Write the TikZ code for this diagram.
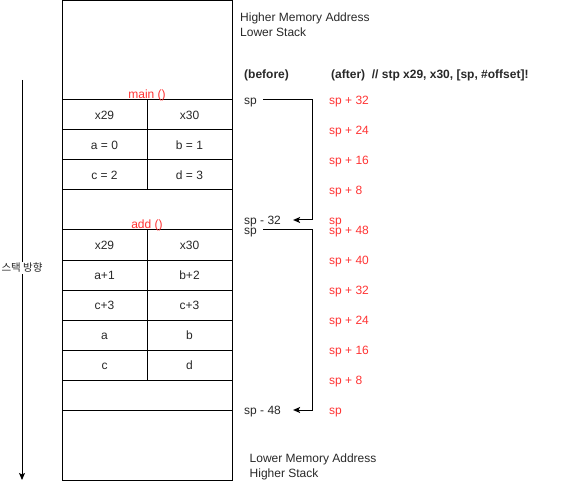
\documentclass[tikz,border=0pt]{standalone}
\usepackage{fontspec}
\setmainfont{Liberation Sans}
\newfontfamily\krfont{Noto Sans CJK KR}
\usetikzlibrary{arrows.meta}
\definecolor{labelred}{RGB}{255,51,51}
\definecolor{textgray}{RGB}{40,40,40}

\begin{document}
\begin{tikzpicture}[x=1pt,y=-1pt,
    font=\fontsize{12}{15}\selectfont, text=textgray,
    cell/.style={rectangle, draw, line width=1pt, minimum width=85pt,
      minimum height=30pt, inner sep=0pt, text height=8.6pt, text depth=0pt},
    block/.style={rectangle, draw, line width=1pt, minimum width=170pt, inner sep=0pt},
    txt/.style={anchor=west, inner sep=0pt, text height=8.6pt, text depth=0pt},
    redtxt/.style={txt, text=labelred},
    spline/.style={line width=1pt, -{Stealth[length=7pt,width=6pt,inset=1.5pt]}}]
  \useasboundingbox (0,0) rectangle (573,489);

  % stack frame
  \node[block, minimum height=99pt] (top) at (147,50.5) {};
  \node[cell] (m29) at (104.5,115) {x29};
  \node[cell] (m30) at (189.5,115) {x30};
  \node[cell] (ma) at (104.5,145) {a = 0};
  \node[cell] (mb) at (189.5,145) {b = 1};
  \node[cell] (mc) at (104.5,175) {c = 2};
  \node[cell] (md) at (189.5,175) {d = 3};
  \node[block, minimum height=40pt] (gapA) at (147,210) {};
  \node[cell] (a29) at (104.5,245) {x29};
  \node[cell] (a30) at (189.5,245) {x30};
  \node[cell] (aa) at (104.5,275) {a+1};
  \node[cell] (ab) at (189.5,275) {b+2};
  \node[cell] (ac) at (104.5,305) {c+3};
  \node[cell] (ac2) at (189.5,305) {c+3};
  \node[cell] (aa2) at (104.5,335) {a};
  \node[cell] (ab2) at (189.5,335) {b};
  \node[cell] (ac3) at (104.5,365) {c};
  \node[cell] (ad) at (189.5,365) {d};
  \node[block, minimum height=30pt] (gapB) at (147,395) {};
  \node[block, minimum height=70pt] (bottom) at (147,445) {};

  \node[text=labelred, inner sep=0pt, text height=8.6pt, text depth=0pt] (mainlbl)
       at (147,94.5) {main ()};
  \node[text=labelred, inner sep=0pt, text height=8.6pt, text depth=0pt] (addlbl)
       at (147,224.5) {add ()};

  % stack direction
  \coordinate (dirtop) at (22,80);
  \coordinate (dirbot) at (22,480);
  \draw[spline] (dirtop) -- (dirbot);
  \node[fill=white, inner sep=1pt, font=\krfont\fontsize{10.5}{12}\selectfont]
       (dir) at (22,268) {스택 방향};

  % address notes
  \node[anchor=west, inner sep=0pt, align=left] (himem) at (240,25.1)
       {Higher Memory Address\\Lower Stack};
  \node[anchor=west, inner sep=0pt, align=left] (lowmem) at (249.5,466.7)
       {Lower Memory Address\\Higher Stack};

  \node[txt, font=\fontsize{12}{15}\selectfont\bfseries] (before) at (244,74.5) {(before)};
  \node[txt, font=\fontsize{12}{15}\selectfont\bfseries] (after) at (331,74.5)
       {(after)\ \ // stp x29, x30, [sp, \#offset]!};

  % sp before
  \node[txt] (spA) at (244,100) {sp};
  \node[txt] (spA32) at (244,220) {sp - 32};
  \node[txt] (spB) at (244,230) {sp};
  \node[txt] (spB48) at (244,410) {sp - 48};

  \coordinate (turnA) at (312,100);
  \coordinate (turnB) at (312,230);
  \draw[spline, shorten <=6pt, shorten >=12pt] (spA.east) -- (turnA) |- (spA32.east);
  \draw[spline, shorten <=6pt, shorten >=12pt] (spB.east) -- (turnB) |- (spB48.east);

  % sp after
  \node[redtxt] (afA1) at (329,100) {sp + 32};
  \node[redtxt] (afA2) at (329,130) {sp + 24};
  \node[redtxt] (afA3) at (329,160) {sp + 16};
  \node[redtxt] (afA4) at (329,190) {sp + 8};
  \node[redtxt] (afA5) at (329,220) {sp};
  \node[redtxt] (afB1) at (329,230) {sp + 48};
  \node[redtxt] (afB2) at (329,260) {sp + 40};
  \node[redtxt] (afB3) at (329,290) {sp + 32};
  \node[redtxt] (afB4) at (329,320) {sp + 24};
  \node[redtxt] (afB5) at (329,350) {sp + 16};
  \node[redtxt] (afB6) at (329,380) {sp + 8};
  \node[redtxt] (afB7) at (329,410) {sp};
\end{tikzpicture}
\end{document}
